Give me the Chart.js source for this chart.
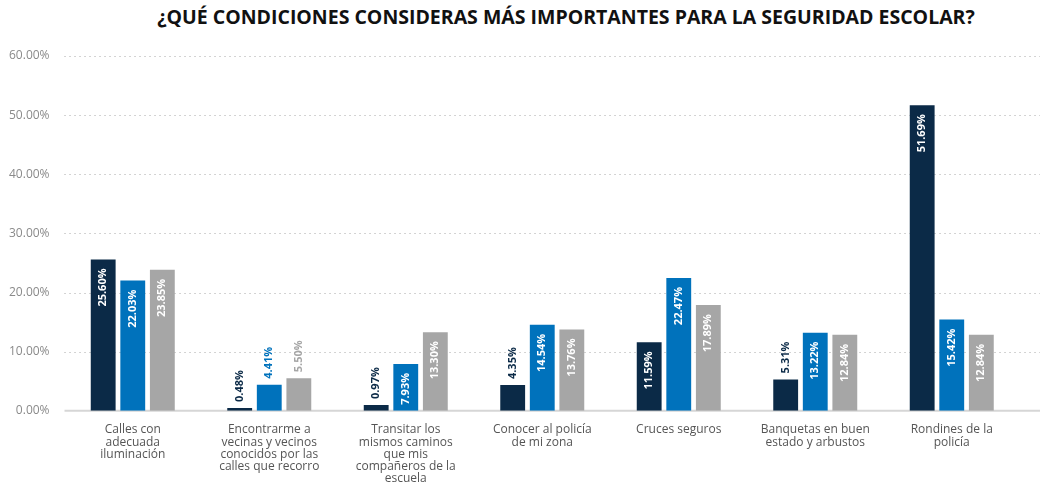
<!DOCTYPE html>
<html>
<head>
<meta charset="utf-8">
<script src="https://cdn.jsdelivr.net/npm/chart.js@4.4.0/dist/chart.umd.min.js"></script>
<style>
    html, body { margin: 0; padding: 0; background: #fff; }
    #wrap { position: relative; width: 1046px; height: 489px; overflow: hidden; }
    #titulo {
        position: absolute; top: 3px; left: 86px; width: 960px;
        text-align: center; font-family: "Open Sans", sans-serif; font-weight: 700;
        font-size: 19.5px; color: #111;
    }
    canvas { position: absolute; top: 0; left: 0; }
</style>
</head>
<body>
<div id="wrap">
    <div id="titulo">¿QUÉ CONDICIONES CONSIDERAS MÁS IMPORTANTES PARA LA SEGURIDAD ESCOLAR?</div>
    <canvas id="bar-chart" width="1046" height="498"></canvas>
</div>
<script>
// categorias (cada una en varias lineas)
const categorias = [
    ["Calles con", "adecuada", "iluminación"],
    ["Encontrarme a", "vecinas y vecinos", "conocidos por las", "calles que recorro"],
    ["Transitar los", "mismos caminos", "que mis", "compañeros de la", "escuela"],
    ["Conocer al policía", "de mi zona"],
    ["Cruces seguros"],
    ["Banquetas en buen", "estado y arbustos"],
    ["Rondines de la", "policía"],
];

const serieA = [25.60, 0.48, 0.97, 4.35, 11.59, 5.31, 51.69];
const serieB = [22.03, 4.41, 7.93, 14.54, 22.47, 13.22, 15.42];
const serieC = [23.85, 5.50, 13.30, 13.76, 17.89, 12.84, 12.84];

const ticksY = [0, 10, 20, 30, 40, 50, 60];

const colores = ["#0b2a47", "#0072bc", "#a6a6a6"];

// lineas punteadas de la cuadricula, un poco mas largas que el area
const rejilla = {
    id: "rejilla",
    beforeDatasetsDraw(chart) {
        const ctx = chart.ctx;
        const y = chart.scales.y;
        ctx.save();
        ctx.strokeStyle = "#a8a8a8";
        ctx.lineWidth = 1;
        ctx.setLineDash([1, 4]);
        ticksY.forEach((v) => {
            if (v === 0) return;
            const py = Math.round(y.getPixelForValue(v)) + 0.5;
            ctx.beginPath();
            ctx.moveTo(chart.chartArea.left, py);
            ctx.lineTo(1040, py);
            ctx.stroke();
        });
        ctx.restore();
        // linea base
        ctx.save();
        ctx.strokeStyle = "#d6d6d6";
        ctx.lineWidth = 2;
        const p0 = y.getPixelForValue(0);
        ctx.beginPath();
        ctx.moveTo(chart.chartArea.left, p0);
        ctx.lineTo(1040, p0);
        ctx.stroke();
        ctx.restore();
    },
};

// etiquetas giradas dentro / encima de las barras
const etiquetasBarras = {
    id: "etiquetasBarras",
    afterDatasetsDraw(chart) {
        const ctx = chart.ctx;
        chart.data.datasets.forEach((ds, i) => {
            const meta = chart.getDatasetMeta(i);
            meta.data.forEach((bar, j) => {
                const valor = ds.data[j];
                const texto = valor.toFixed(2) + "%";
                ctx.save();
                ctx.translate(bar.x, bar.y);
                ctx.rotate(-Math.PI / 2);
                ctx.font = "bold 11px 'Open Sans', sans-serif";
                ctx.textBaseline = "middle";
                if (valor < 6) {
                    ctx.fillStyle = colores[i];
                    ctx.textAlign = "left";
                    ctx.fillText(texto, 6, 0);
                } else {
                    ctx.fillStyle = "#ffffff";
                    ctx.textAlign = "right";
                    ctx.fillText(texto, -9, 0);
                }
                ctx.restore();
            });
        });
    },
};

new Chart(document.getElementById("bar-chart"), {
    type: "bar",
    data: {
        labels: categorias,
        datasets: [
            { label: "A", data: serieA, backgroundColor: colores[0] },
            { label: "B", data: serieB, backgroundColor: colores[1] },
            { label: "C", data: serieC, backgroundColor: colores[2] },
        ],
    },
    options: {
        responsive: false,
        animation: false,
        layout: { padding: { top: 56, right: 26, left: 2, bottom: 0 } },
        plugins: {
            legend: { display: false },
            title: { display: false },
            tooltip: { enabled: false },
        },
        datasets: {
            bar: { categoryPercentage: 0.65, barPercentage: 0.84 },
        },
        scales: {
            x: {
                grid: { display: false, drawTicks: false },
                border: { display: false },
                ticks: {
                    color: "#555",
                    padding: 13,
                    maxRotation: 0,
                    autoSkip: false,
                    font: { family: "'Open Sans', sans-serif", size: 12, lineHeight: 1.02 },
                },
            },
            y: {
                min: 0,
                max: 60,
                afterBuildTicks: (axis) => {
                    axis.ticks = ticksY.map((v) => ({ value: v }));
                },
                grid: { display: false },
                border: { display: false },
                ticks: {
                    color: "#8a8a8a",
                    padding: 7,
                    font: { family: "'Open Sans', sans-serif", size: 12 },
                    callback: (v) => v.toFixed(2) + "%",
                },
            },
        },
    },
    plugins: [rejilla, etiquetasBarras],
});
</script>
</body>
</html>
